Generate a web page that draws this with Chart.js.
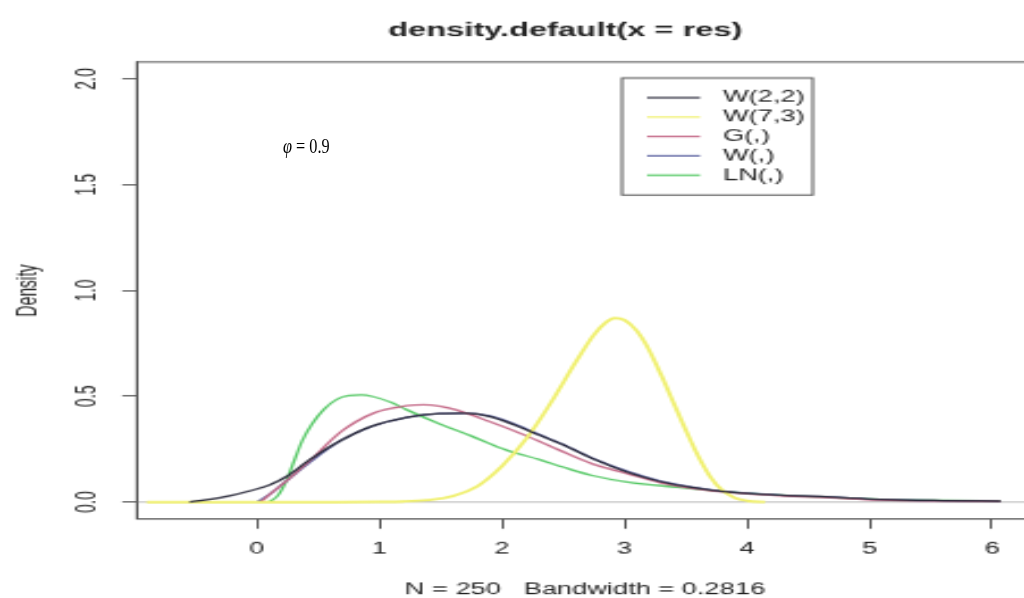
<!DOCTYPE html>
<html><head><meta charset="utf-8">
<script src="https://cdn.jsdelivr.net/npm/chart.js@4"></script>
<style>
html,body{margin:0;padding:0;width:1024px;height:598px;overflow:hidden;background:#fff;}
#wrap{position:absolute;left:0;top:0;width:460px;height:470px;transform-origin:0 0;transform:translate(0,-15px) scale(2.27,1.31);}
#phi{position:absolute;left:283px;top:133px;font-family:"Liberation Serif","Times New Roman",serif;font-size:22px;line-height:26px;color:#000;white-space:nowrap;transform-origin:0 0;transform:scale(0.74,1);}
</style></head><body>
<div id="wrap"><canvas id="c" width="460" height="470"></canvas></div>
<div id="phi"><i>φ</i> = 0.9</div>
<script>
// ---- data ----
const chartTitle = 'density.default(x = res)';
const xAxisTitle = 'N = 250   Bandwidth = 0.2816';
const yAxisTitle = 'Density';
const xTickValues = [0,1,2,3,4,5,6];
const xTickLabels = ['0','1','2','3','4','5','6'];
const yTickValues = [0,0.5,1,1.5,2];
const yTickLabels = ['0.0','0.5','1.0','1.5','2.0'];
const seriesNames = ['W(2,2)','W(7,3)','G(,)','W(,)','LN(,)'];

const w22X = [-0.55,-0.3,-0.03,0.1,0.24,0.43,0.65,0.92,1.22,1.49,1.7,1.9,2.1,2.31,2.5,2.74,3.02,3.29,3.56,3.86,4.27,4.68,5.09,5.6,6.07];
const w22Y = [0,0.02,0.057,0.08,0.12,0.2,0.28,0.355,0.40,0.418,0.42,0.405,0.365,0.315,0.27,0.205,0.142,0.097,0.068,0.047,0.033,0.024,0.013,0.007,0.004];

const w73X = [-0.9,0.5,1.0,1.2,1.4,1.6,1.8,2.0,2.2,2.4,2.6,2.75,2.85,2.92,3.0,3.1,3.2,3.3,3.4,3.5,3.6,3.7,3.8,3.9,4.0,4.15];
const w73Y = [0,0,0.001,0.003,0.01,0.028,0.075,0.17,0.3,0.47,0.66,0.79,0.85,0.87,0.86,0.81,0.72,0.6,0.47,0.34,0.22,0.12,0.055,0.02,0.006,0];

const gX = [0.03,0.1,0.24,0.46,0.68,0.95,1.22,1.36,1.5,1.63,1.9,2.17,2.47,2.74,3.02,3.29,3.6,3.86,4.27,4.68,5.09,5.6,6.07];
const gY = [0,0.035,0.1,0.21,0.33,0.42,0.455,0.46,0.452,0.435,0.38,0.32,0.245,0.18,0.135,0.092,0.06,0.045,0.03,0.02,0.01,0.005,0.003];

const wX = [0,0.1,0.24,0.46,0.68,0.95,1.22,1.49,1.7,1.9,2.1,2.31,2.5,2.74,3.02,3.29,3.56,3.86,4.27,4.68,5.09,5.6,6.07];
const wY = [0,0.035,0.1,0.2,0.29,0.36,0.4,0.418,0.42,0.407,0.37,0.318,0.272,0.207,0.146,0.1,0.07,0.048,0.033,0.023,0.012,0.006,0.004];

const lnX = [0.1,0.17,0.24,0.3,0.37,0.45,0.55,0.65,0.75,0.85,0.95,1.1,1.22,1.49,1.76,2.04,2.31,2.5,2.74,3.02,3.43,3.78,4.27,4.68,5.09,5.6,6.07];
const lnY = [0,0.03,0.1,0.19,0.29,0.37,0.44,0.485,0.503,0.506,0.498,0.47,0.437,0.37,0.31,0.245,0.2,0.165,0.125,0.095,0.07,0.052,0.033,0.022,0.013,0.008,0.006];

// ---- styles ----
const seriesColors = ['#2b2b3b','#f0f070','#c46a88','#5d63a0','#55c865'];
const seriesWidths = [1.3,1.9,1.3,1.3,1.3];
const FONT = '"Liberation Sans", Arial, Helvetica, sans-serif';
const TEXT = '#222';
const AXIS = '#555';

Chart.defaults.font.family = FONT;
Chart.defaults.font.size = 12;
Chart.defaults.color = TEXT;

const pairs = (xs, ys) => xs.map((x, i) => ({x, y: ys[i]}));
const seriesData = [pairs(w22X,w22Y), pairs(w73X,w73Y), pairs(gX,gY), pairs(wX,wY), pairs(lnX,lnY)];

const datasets = seriesNames.map((name, i) => ({
  label: name,
  data: seriesData[i],
  borderColor: seriesColors[i],
  borderWidth: seriesWidths[i],
  showLine: true,
  pointRadius: 0,
  fill: false,
  cubicInterpolationMode: 'monotone'
}));

const decor = {
  id: 'decor',
  beforeDatasetsDraw(chart) {
    const {ctx, chartArea: a, scales: {y}} = chart;
    const y0 = y.getPixelForValue(0);
    ctx.save();
    ctx.strokeStyle = '#bdbdbd';
    ctx.lineWidth = 1;
    ctx.beginPath(); ctx.moveTo(a.left, y0); ctx.lineTo(a.right, y0); ctx.stroke();
    ctx.restore();
  },
  afterDraw(chart) {
    const {ctx, chartArea: a} = chart;
    ctx.save();
    ctx.strokeStyle = AXIS; ctx.lineWidth = 1;
    ctx.strokeRect(a.left, a.top, a.right - a.left, a.bottom - a.top);
    ctx.fillStyle = TEXT;
    ctx.font = 'bold 14.4px ' + FONT;
    ctx.textAlign = 'center'; ctx.textBaseline = 'middle';
    ctx.fillText(chartTitle, 249, 35.2);
    const bx = 274, by = 71, bw = 84, bh = 89.3, row = 14.8, first = 86;
    ctx.strokeStyle = AXIS; ctx.lineWidth = 1;
    ctx.strokeRect(bx, by, bw, bh);
    ctx.font = '12px ' + FONT;
    ctx.textAlign = 'left';
    seriesNames.forEach((n, i) => {
      const yy = first + i * row;
      ctx.strokeStyle = seriesColors[i]; ctx.lineWidth = 1.2;
      ctx.beginPath(); ctx.moveTo(bx + 11, yy); ctx.lineTo(bx + 34.4, yy); ctx.stroke();
      ctx.fillStyle = TEXT;
      ctx.fillText(n, bx + 44.5, yy);
    });
    ctx.restore();
  }
};

new Chart(document.getElementById('c'), {
  type: 'scatter',
  data: {datasets},
  options: {
    responsive: false,
    animation: false,
    devicePixelRatio: 1,
    layout: {autoPadding: false, padding: {left: 0, top: 58.8, right: 5, bottom: 0}},
    plugins: {legend: {display: false}, tooltip: {enabled: false}, title: {display: false}},
    scales: {
      x: {
        type: 'linear', position: 'bottom', min: -0.979, max: 6.334,
        afterBuildTicks: s => { s.ticks = xTickValues.map(v => ({value: v})); },
        afterFit: s => { s.height = 62.4; },
        ticks: {autoSkip: false, maxRotation: 0, padding: 8.5, color: TEXT, font: {size: 12},
                callback: (v, i) => xTickLabels[i]},
        grid: {drawOnChartArea: false, drawTicks: true, tickLength: 7.5, tickColor: AXIS, tickWidth: 1},
        border: {display: true, color: AXIS, width: 1},
        title: {display: true, text: xAxisTitle, color: TEXT, font: {size: 12}, padding: {top: 0, bottom: 1}}
      },
      y: {
        type: 'linear', position: 'left', min: -0.08, max: 2.08,
        afterBuildTicks: s => { s.ticks = yTickValues.map(v => ({value: v})); },
        afterFit: s => { s.width = 60.35; },
        ticks: {autoSkip: false, minRotation: 90, maxRotation: 90, crossAlign: 'center', padding: 7.2,
                color: TEXT, font: {size: 12}, callback: (v, i) => yTickLabels[i]},
        grid: {drawOnChartArea: false, drawTicks: true, tickLength: 6.5, tickColor: AXIS, tickWidth: 1},
        border: {display: true, color: AXIS, width: 1},
        title: {display: true, text: yAxisTitle, color: TEXT, font: {size: 12}, padding: {top: 5, bottom: 0}}
      }
    }
  },
  plugins: [decor]
});
</script>
</body></html>
